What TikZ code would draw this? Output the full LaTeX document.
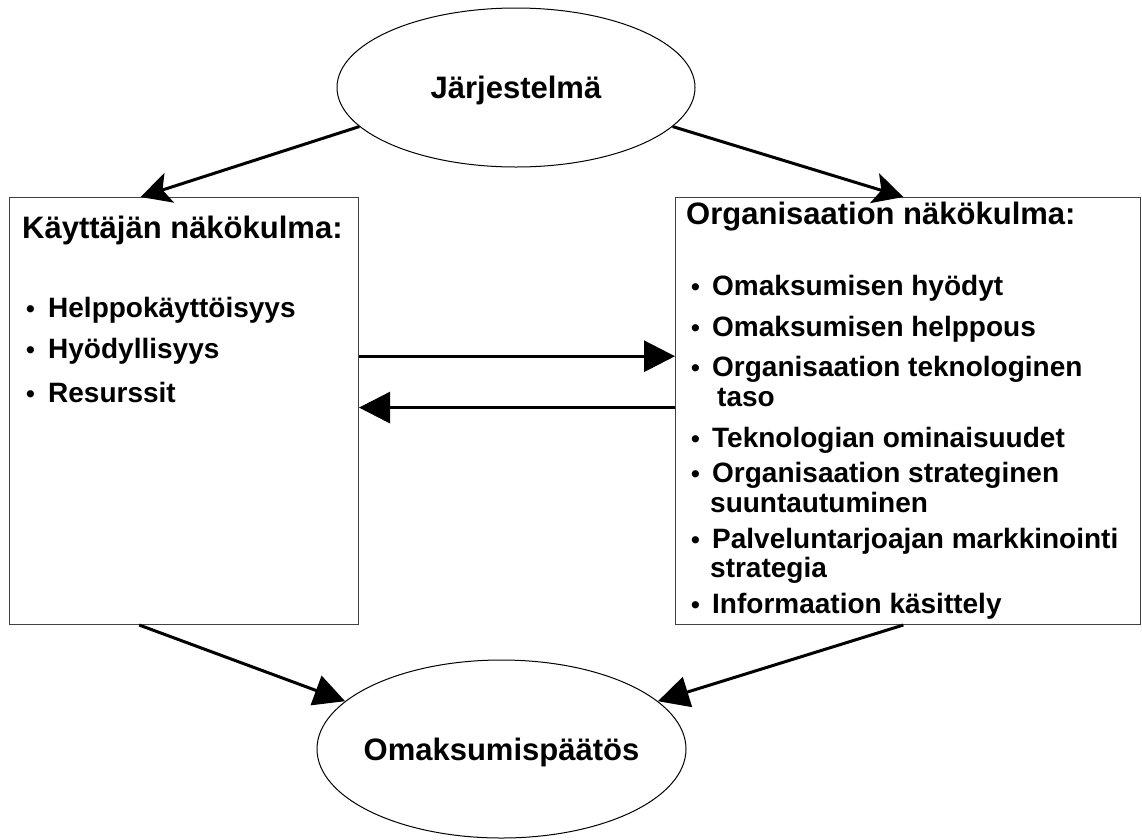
\documentclass[tikz,border=0pt]{standalone}
\usepackage{fontspec}
\setmainfont{Liberation Sans}
\usetikzlibrary{arrows.meta,calc,shapes.geometric}
\begin{document}
\begin{tikzpicture}[x=1pt,y=-1pt,
  title/.style={anchor=base west,inner sep=0pt,font=\fontsize{31}{36}\selectfont\bfseries},
  item/.style={anchor=base west,inner sep=0pt,font=\fontsize{28}{32}\selectfont\bfseries},
  dot/.style={anchor=base west,inner sep=0pt,font=\fontsize{25}{30}\selectfont\bfseries},
  oval/.style={ellipse,draw,line width=1pt,inner sep=0pt,text depth=0pt,font=\fontsize{31}{36}\selectfont\bfseries},
  panel/.style={draw=black!75,line width=1pt,inner sep=0pt,anchor=north west},
  flow/.style={line width=3pt,-{Triangle[length=31pt,width=31pt]}},
  flowtop/.style={line width=3pt,-{Stealth[length=30pt,width=31pt,inset=7pt]}},
]
\useasboundingbox (0,0) rectangle (1142,839);
\fill[white] (0,0) rectangle (1142,839);

% ellipses
\node[oval,minimum width=358pt,minimum height=159pt] (sys) at (516,87.5) {\makebox[0pt]{Järjestelmä}};
\node[oval,minimum width=369pt,minimum height=178pt] (dec) at (501.5,749) {\makebox[0pt]{Omaksumispäätös}};

% boxes
\node[panel,minimum width=349pt,minimum height=427pt] (user) at (9,197) {};
\node[panel,minimum width=465pt,minimum height=427pt] (org) at (675,197) {};

% left box text
\node[title] (ut) at (22,238) {Käyttäjän näkökulma:};
\node[dot] (ub1) at (26,317) {•};
\node[item] (ui1) at (48,317) {Helppokäyttöisyys};
\node[dot] (ub2) at (26,358) {•};
\node[item] (ui2) at (48,358) {Hyödyllisyys};
\node[dot] (ub3) at (26,402) {•};
\node[item] (ui3) at (48,402) {Resurssit};

% right box text
\node[title] (ot) at (686,224) {Organisaation näkökulma:};
\node[dot] (ob1) at (691,295) {•};
\node[item] (oi1) at (712,295) {Omaksumisen hyödyt};
\node[dot] (ob2) at (691,336) {•};
\node[item] (oi2) at (712,336) {Omaksumisen helppous};
\node[dot] (ob3) at (691,376) {•};
\node[item] (oi3) at (712,376) {Organisaation teknologinen};
\node[item] (oi3b) at (717,406) {taso};
\node[dot] (ob4) at (691,447) {•};
\node[item] (oi4) at (712,447) {Teknologian ominaisuudet};
\node[dot] (ob5) at (691,482) {•};
\node[item] (oi5) at (712,482) {Organisaation strateginen};
\node[item] (oi5b) at (710,512) {suuntautuminen};
\node[dot] (ob6) at (691,548) {•};
\node[item] (oi6) at (712,548) {Palveluntarjoajan markkinointi};
\node[item] (oi6b) at (710,577) {strategia};
\node[dot] (ob7) at (691,613) {•};
\node[item] (oi7) at (712,613) {Informaation käsittely};

% connectors
\draw[flowtop] (sys.194) -- ($(user.north west)!0.376!(user.north east)$);
\draw[flowtop] (sys.346) -- ($(org.north west)!0.49!(org.north east)$);
\draw[flow] ($(user.south west)!0.372!(user.south east)$) -- (dec.163);
\draw[flow] ($(org.south west)!0.49!(org.south east)$) -- (dec.17);
\coordinate (a1) at ($(user.north east)!0.372!(user.south east)$);
\coordinate (a2) at ($(org.north west)!0.492!(org.south west)$);
\draw[flow] (a1) -- (a1 -| org.west);
\draw[flow] (a2) -- (a2 -| user.east);
\end{tikzpicture}
\end{document}
